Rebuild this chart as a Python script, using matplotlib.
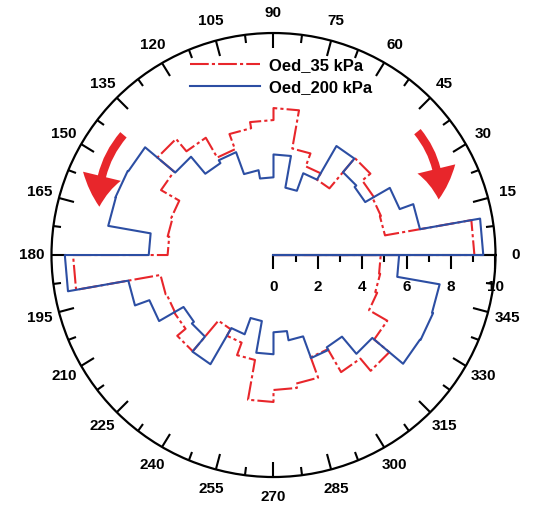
import numpy as np
import matplotlib
matplotlib.use('Agg')
from matplotlib import pyplot as plt
from matplotlib.patches import FancyArrowPatch

plt.rcParams['font.family'] = ['Liberation Sans', 'DejaVu Sans']
plt.rcParams['font.weight'] = 'bold'

# 10 deg bins, radius of each bin
bin_edges = np.arange(0, 361, 10)
oed_35 = [9.05, 5.10, 5.15, 5.22, 5.70, 3.92, 4.25, 4.87, 6.62, 6.08,
          5.80, 5.07, 6.10, 6.83, 5.85, 4.90, 4.84, 4.77, 9.03, 5.17,
          5.13, 5.17, 5.66, 3.86, 4.20, 4.80, 6.62, 6.08, 5.88, 4.90,
          6.09, 6.81, 5.92, 4.97, 4.88, 4.83]
oed_200 = [9.45, 6.70, 6.05, 4.77, 4.87, 5.67, 3.92, 3.08, 4.53, 3.50,
           3.88, 4.93, 4.78, 5.78, 7.55, 7.58, 7.56, 5.62, 9.40, 6.64,
           5.95, 4.68, 4.80, 5.68, 3.80, 3.02, 4.47, 3.48, 3.90, 4.94,
           4.80, 5.81, 7.62, 7.65, 7.60, 5.66]
labels = ['Oed_35 kPa', 'Oed_200 kPa']
angle_ticks = np.arange(0, 360, 15)
radial_major = np.arange(0, 11, 2)
radial_minor = np.arange(1, 10, 2)

RED = '#e8262b'
BLUE = '#2c4ea3'


def rose_outline(edges, values):
    # origin -> out along first edge -> chord per bin -> back to origin
    th = [0.0]
    r = [0.0]
    for a, b, v in zip(edges[:-1], edges[1:], values):
        th += [a, b]
        r += [v, v]
    th.append(edges[-1])
    r.append(0.0)
    return np.deg2rad(th), np.array(r)


fig = plt.figure(figsize=(5.38, 5.05), dpi=100)
ax = fig.add_axes([0.0957, 0.0554, 0.8253, 0.8792], projection='polar')
ax.set_ylim(0, 10)
ax.grid(False)
ax.set_yticks([])
ax.spines['polar'].set_linewidth(1.6)
ax.spines['polar'].set_color('k')

ax.set_xticks(np.deg2rad(angle_ticks))
ax.set_xticklabels([str(a) for a in angle_ticks])
ax.set_xticks(np.deg2rad(angle_ticks + 7.5), minor=True)
# polar axes switch theta ticks off; the outer ring carries tick2
ax.tick_params(axis='x', which='both', top=True, bottom=False,
               labeltop=False, labelbottom=True)
ax.tick_params(axis='x', which='major', direction='in', length=11, width=1.5,
               pad=7.5, labelsize=11)
ax.tick_params(axis='x', which='minor', direction='in', length=6, width=1.5)

# radial scale drawn along 0 deg
ax.plot([0, 0], [0, 10], color='k', lw=1.5, zorder=2)
ax.plot(np.zeros(len(radial_major)), radial_major, ls='none', marker=3,
        ms=10, mew=1.5, color='k', clip_on=False, zorder=2)
ax.plot(np.zeros(len(radial_minor)), radial_minor, ls='none', marker=3,
        ms=5, mew=1.5, color='k', clip_on=False, zorder=2)
for v in radial_major:
    ax.annotate(str(v), xy=(0, v), xytext=(0, -23), textcoords='offset points',
                ha='center', va='center', fontsize=11)

th, r = rose_outline(bin_edges, oed_35)
ax.plot(th, r, color=RED, lw=1.5, dashes=(9, 1.5, 1.5, 1.5), label=labels[0], zorder=3)
th, r = rose_outline(bin_edges, oed_200)
ax.plot(th, r, color=BLUE, lw=1.5, label=labels[1], zorder=4)

ax.legend(loc='upper left', bbox_to_anchor=(0.353, 0.885), bbox_transform=fig.transFigure,
          frameon=False, fontsize=12, handlelength=4.2, handletextpad=0.55,
          labelspacing=0.4, borderpad=0, borderaxespad=0)

arrow_kw = dict(arrowstyle='simple,head_length=22,head_width=28,tail_width=6',
                color=RED, lw=0, mutation_scale=1, shrinkA=0, shrinkB=0, zorder=5)
ax.add_patch(FancyArrowPatch((np.deg2rad(141.3), 8.66), (np.deg2rad(164.5), 8.14),
                             connectionstyle='arc3,rad=0.2', **arrow_kw))
ax.add_patch(FancyArrowPatch((np.deg2rad(40.6), 8.54), (np.deg2rad(18.6), 7.85),
                             connectionstyle='arc3,rad=-0.2', **arrow_kw))

fig.savefig('out.png', dpi=100)
